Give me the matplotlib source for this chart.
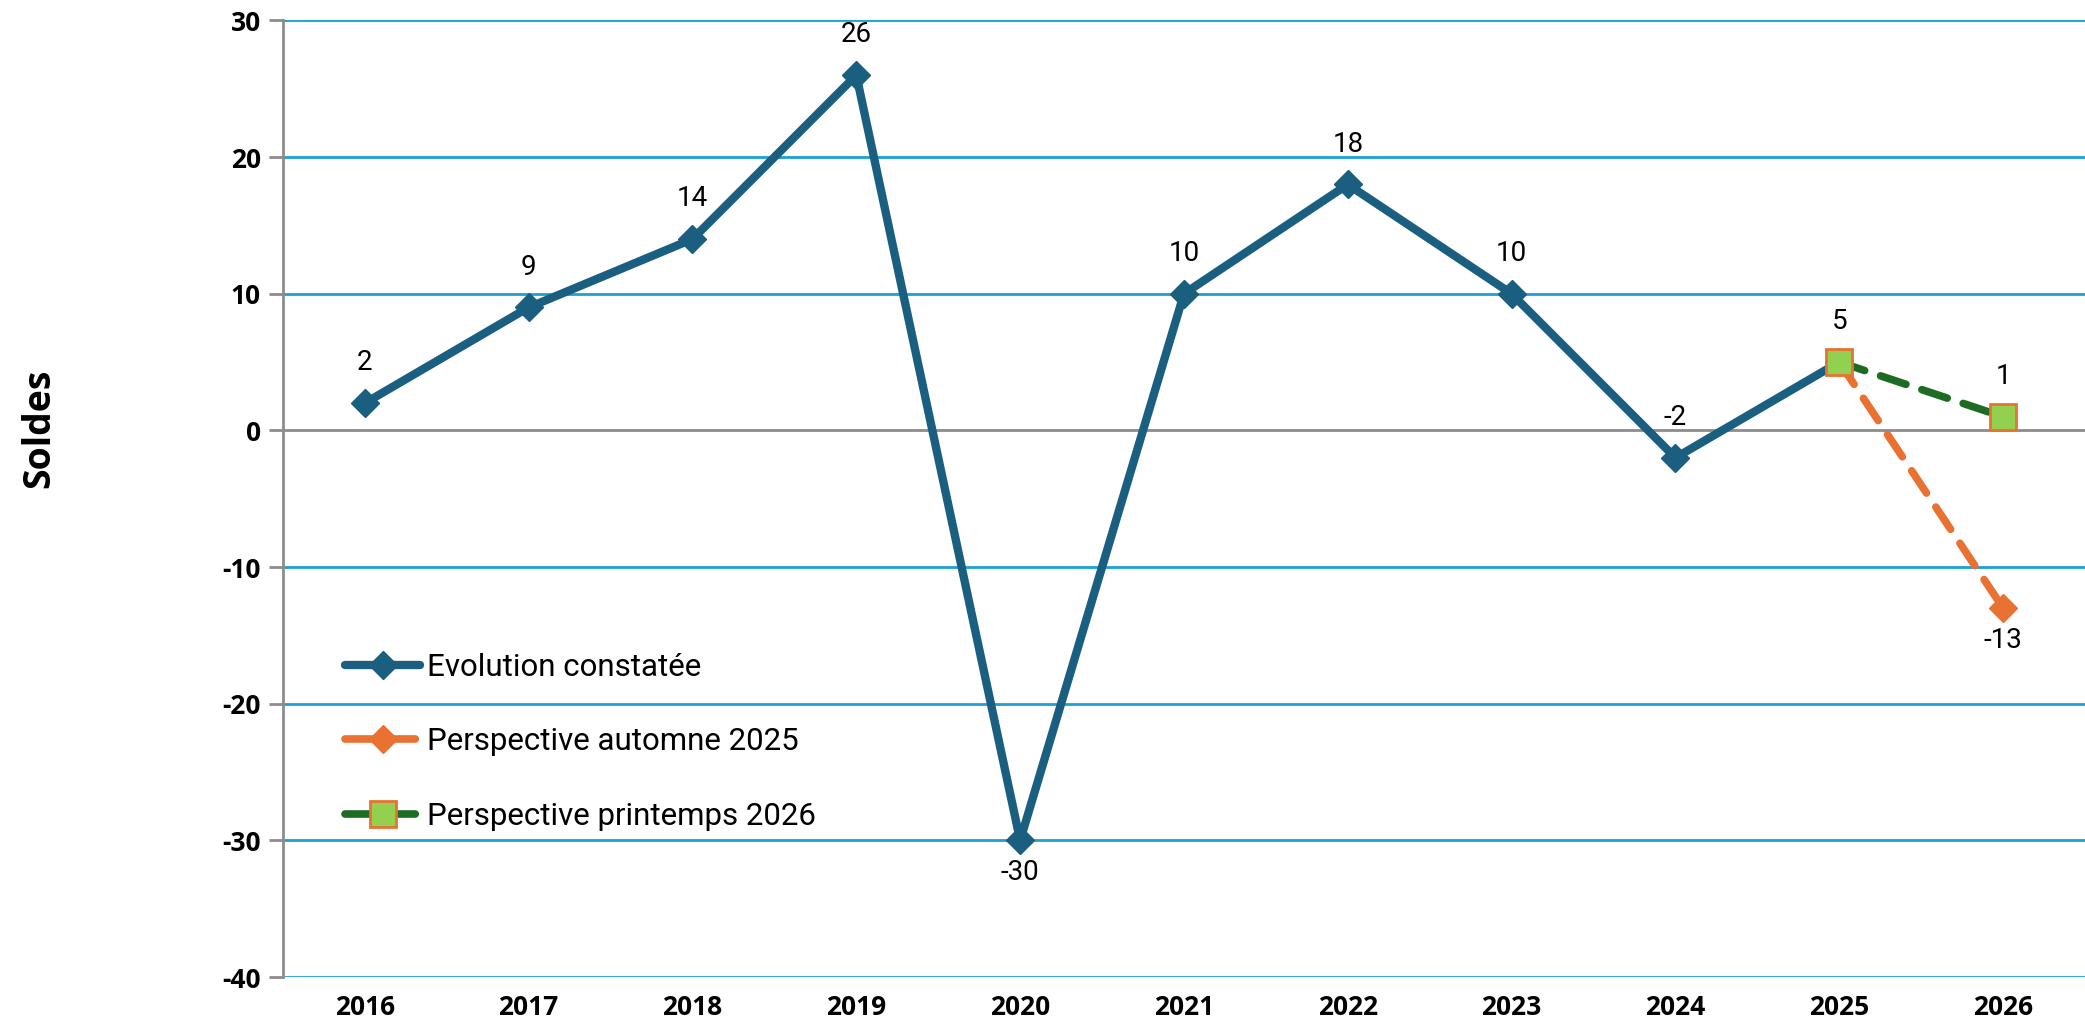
import matplotlib.pyplot as plt
import numpy as np

# data
years = ['2016', '2017', '2018', '2019', '2020', '2021',
         '2022', '2023', '2024', '2025', '2026']
evolution = [2, 9, 14, 26, -30, 10, 18, 10, -2, 5]
automne_years = ['2025', '2026']
automne = [5, -13]
printemps_years = ['2025', '2026']
printemps = [5, 1]
y_ticks = [30, 20, 10, 0, -10, -20, -30, -40]

BLUE = '#1a5f80'
ORANGE = '#e97132'
GREEN = '#1e6b24'
LIGHT_GREEN = '#92d050'
GRID = '#1ca0d8'

plt.rcParams['axes.unicode_minus'] = False

fig = plt.figure(figsize=(20.85, 10.22), dpi=100)
ax = fig.add_axes([0.1357, 0.044, 0.8643, 0.936])

x = np.arange(len(years))
pos = {y: i for i, y in enumerate(years)}
xa = [pos[y] for y in automne_years]
xp = [pos[y] for y in printemps_years]

# grid
for t in y_ticks:
    ax.axhline(t, color='#8c8c8c' if t == 0 else GRID, lw=2, zorder=1)

ax.plot(x[:len(evolution)], evolution, color=BLUE, lw=6, marker='D',
        ms=14, solid_capstyle='round', label='Evolution constatée', zorder=3)
ax.plot(xa, automne, color=ORANGE, lw=5.5, ls=(0, (3.5, 2.2)), marker='D',
        ms=14, dash_capstyle='round', label='Perspective automne 2025',
        zorder=4)
ax.plot(xp, printemps, color=GREEN, lw=5.5, ls=(0, (3.5, 2.2)), marker='s',
        ms=19, mfc=LIGHT_GREEN, mec=ORANGE, mew=2, dash_capstyle='round',
        label='Perspective printemps 2026', zorder=5)

lab_font = dict(family=['Roboto', 'DejaVu Sans'], fontsize=20, ha='center')
for i, v in enumerate(evolution):
    if v < -20:
        ax.annotate(str(v), (x[i], v), xytext=(0, -23), textcoords='offset points',
                    va='center', **lab_font)
    elif i < len(evolution) - 1:
        ax.annotate(str(v), (x[i], v), xytext=(0, 29), textcoords='offset points',
                    va='center', **lab_font)
ax.annotate(str(printemps[0]), (xp[0], printemps[0]), xytext=(0, 29),
            textcoords='offset points', va='center', **lab_font)
ax.annotate(str(printemps[1]), (xp[1], printemps[1]), xytext=(0, 29),
            textcoords='offset points', va='center', **lab_font)
ax.annotate(str(automne[1]), (xa[1], automne[1]), xytext=(0, -23),
            textcoords='offset points', va='center', **lab_font)

ax.set_xlim(-0.5, 10.5)
ax.set_ylim(-40, 30)
ax.set_yticks(y_ticks)
ax.set_xticks(x)
ax.set_xticklabels(years)
for s in ['top', 'right', 'bottom']:
    ax.spines[s].set_visible(False)
ax.spines['left'].set_color('#8c8c8c')
ax.spines['left'].set_linewidth(2)
ax.tick_params(axis='y', length=10, width=2, color='#8c8c8c', pad=6)
ax.tick_params(axis='x', length=0, pad=12)
for lbl in ax.get_xticklabels() + ax.get_yticklabels():
    lbl.set_family(['Open Sans', 'DejaVu Sans'])
    lbl.set_fontweight('bold')
    lbl.set_fontsize(19)

fig.text(0.019, 0.581, 'Soldes', rotation=90, va='center', ha='center',
         fontsize=27, fontweight='bold', family=['Open Sans', 'DejaVu Sans'])

ax.legend(loc='upper left', bbox_to_anchor=(0.026, 0.355), frameon=False,
          prop={'family': ['Roboto', 'DejaVu Sans'], 'size': 22.5},
          handlelength=2.4, handletextpad=0.2, labelspacing=1.45,
          borderpad=0)

fig.savefig('out.png', dpi=100)
